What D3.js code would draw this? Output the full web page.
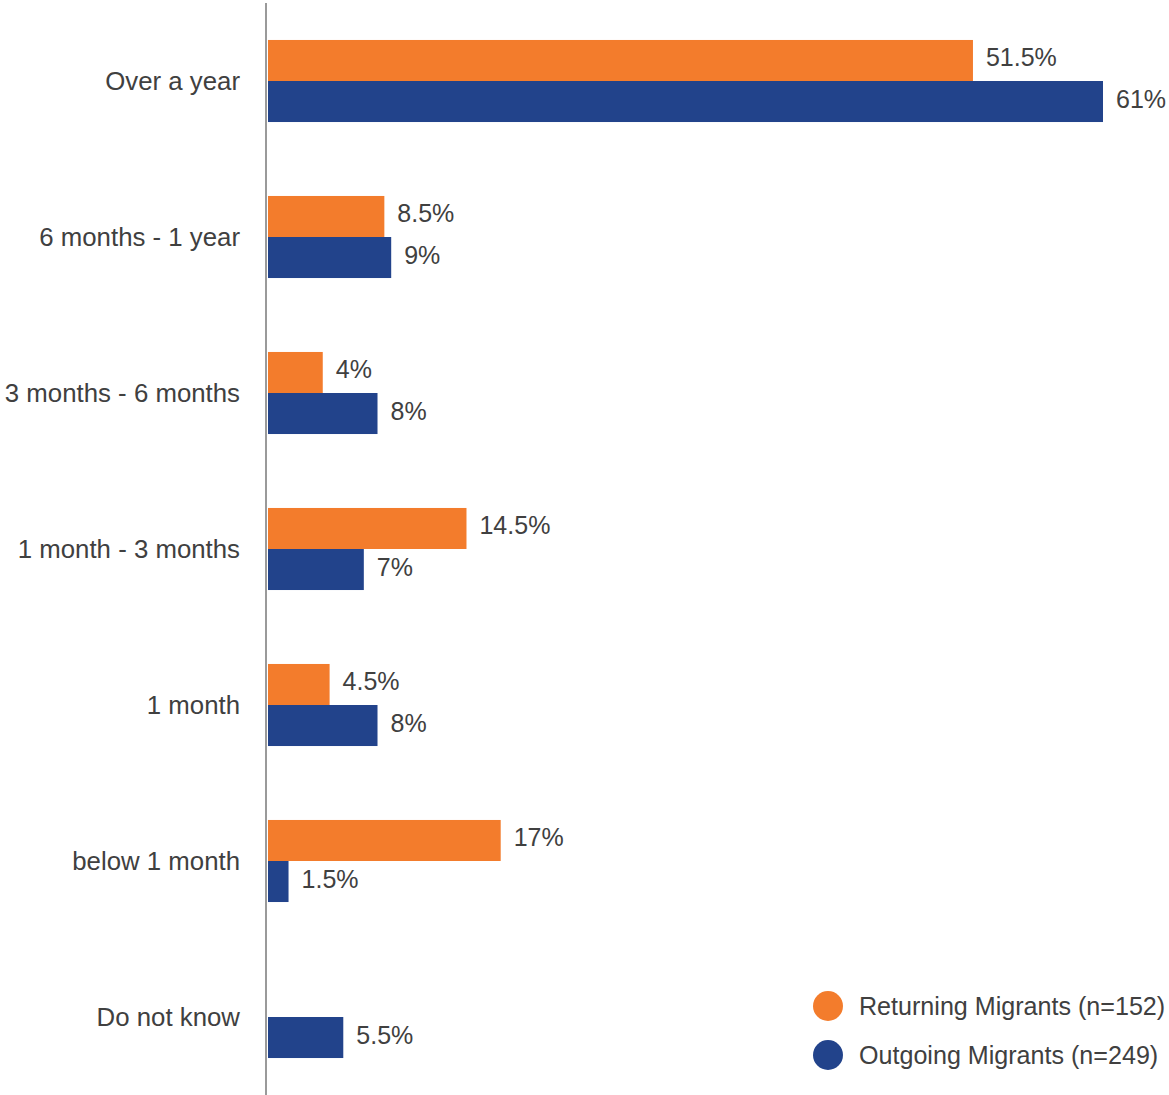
<!DOCTYPE html>
<html>
<head>
<meta charset="utf-8">
<script src="https://cdn.jsdelivr.net/npm/d3@7"></script>
<style>
  html, body { margin: 0; padding: 0; background: #fff; }
  svg { display: block; font-family: "Liberation Sans", Arial, sans-serif; }
</style>
</head>
<body>
<svg id="chart" width="1169" height="1095"></svg>
<script>
// Duration categories, top to bottom
const categories = [
  "Over a year",
  "6 months - 1 year",
  "3 months - 6 months",
  "1 month - 3 months",
  "1 month",
  "below 1 month",
  "Do not know"
];

// Share of respondents (%) per category
const returningValues = [51.5, 8.5, 4, 14.5, 4.5, 17, null];
const outgoingValues  = [61, 9, 8, 7, 8, 1.5, 5.5];

const seriesNames  = ["Returning Migrants (n=152)", "Outgoing Migrants (n=249)"];
const seriesKeys   = ["returning", "outgoing"];
const seriesColors = ["#F37C2C", "#22438B"];

const rows = categories.map((c, i) => ({
  category: c,
  returning: returningValues[i],
  outgoing: outgoingValues[i]
}));

const svg = d3.select("#chart");
const W = 1169, H = 1095;
const axisX = 266;
const barX0 = 268;

const maxVal = d3.max([...returningValues, ...outgoingValues]);

const x = d3.scaleLinear().domain([0, maxVal]).range([barX0, 1103]);

const y = d3.scaleBand()
  .domain(categories)
  .range([3, H])
  .paddingInner(0.474)
  .paddingOuter(0.237);

const ySub = d3.scaleBand()
  .domain(seriesKeys)
  .range([0, y.bandwidth()])
  .padding(0);

const color = d3.scaleOrdinal().domain(seriesKeys).range(seriesColors);

const textColor = "#404040";
const labelSize = 25.8;
const valueSize = 25;
const legendSize = 25.1;

// Bars and value labels
const groups = svg.append("g").selectAll("g")
  .data(rows)
  .join("g")
  .attr("transform", d => `translate(0,${y(d.category)})`);

groups.selectAll("rect")
  .data(d => seriesKeys.map(k => ({ key: k, value: d[k] })).filter(e => e.value != null))
  .join("rect")
  .attr("x", x(0))
  .attr("y", e => ySub(e.key))
  .attr("width", e => x(e.value) - x(0))
  .attr("height", ySub.bandwidth())
  .attr("fill", e => color(e.key));

groups.selectAll("text.value")
  .data(d => seriesKeys.map(k => ({ key: k, value: d[k] })).filter(e => e.value != null))
  .join("text")
  .attr("class", "value")
  .attr("x", e => x(e.value) + 13)
  .attr("y", e => ySub(e.key) + ySub.bandwidth() / 2 - 3)
  .attr("dominant-baseline", "central")
  .attr("font-size", valueSize)
  .attr("fill", textColor)
  .text(e => `${e.value}%`);

// Category labels
svg.append("g").selectAll("text")
  .data(categories)
  .join("text")
  .attr("x", 240)
  .attr("y", c => y(c) + y.bandwidth() / 2)
  .attr("text-anchor", "end")
  .attr("dominant-baseline", "central")
  .attr("font-size", labelSize)
  .attr("fill", textColor)
  .text(c => c);

// Vertical baseline
svg.append("line")
  .attr("x1", axisX).attr("x2", axisX)
  .attr("y1", 3).attr("y2", H)
  .attr("stroke", "#9a9a9a")
  .attr("stroke-width", 2);

// Legend
const legend = svg.append("g").selectAll("g")
  .data(seriesKeys)
  .join("g")
  .attr("transform", (k, i) => `translate(828,${1006 + i * 49})`);

legend.append("circle")
  .attr("r", 15)
  .attr("fill", k => color(k));

legend.append("text")
  .attr("x", 31)
  .attr("y", 0)
  .attr("dominant-baseline", "central")
  .attr("font-size", legendSize)
  .attr("fill", textColor)
  .text((k, i) => seriesNames[i]);
</script>
</body>
</html>
